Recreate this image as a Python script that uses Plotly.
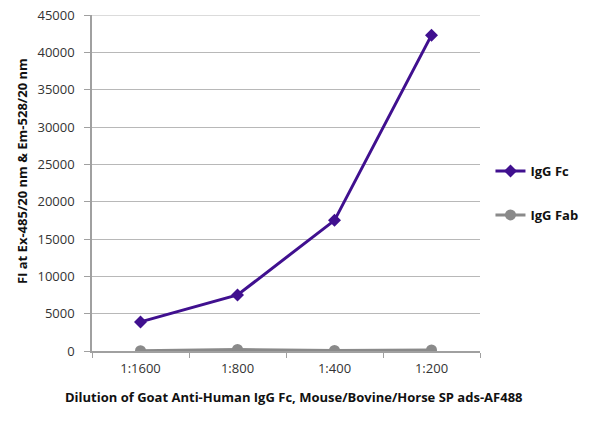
import plotly.graph_objects as go

categories = ["1:1600", "1:800", "1:400", "1:200"]
igg_fc = [3900, 7500, 17500, 42300]
igg_fab = [50, 200, 80, 150]
y_max = 45000

x_title = "<b>Dilution of Goat Anti-Human IgG Fc, Mouse/Bovine/Horse SP ads-AF488</b>"
y_title = "<b>FI at Ex-485/20 nm & Em-528/20 nm</b>"

fig = go.Figure()
fig.add_trace(go.Scatter(x=categories, y=igg_fc, name="IgG Fc", mode="lines+markers",
                         legendgroup="fc",
                         line=dict(color="#40108f", width=3),
                         marker=dict(symbol="diamond", size=10, color="#40108f")))
fig.add_trace(go.Scatter(x=categories, y=igg_fab, name="IgG Fab", mode="lines+markers",
                         legendgroup="fab",
                         line=dict(color="#8a8a8a", width=3),
                         marker=dict(symbol="circle", size=11, color="#8a8a8a")))

font_family = "Open Sans, Noto Sans, sans-serif"
fig.update_layout(
    width=600, height=425,
    margin=dict(l=92, r=120, t=15, b=74),
    plot_bgcolor="white", paper_bgcolor="white",
    font=dict(family=font_family, size=13, color="#333"),
    showlegend=True,
    legend=dict(x=1.027, y=0.47, xanchor="left", yanchor="middle",
                font=dict(size=13, color="#111", family=font_family, weight="bold"),
                tracegroupgap=24, itemwidth=30),
    xaxis=dict(
        type="category", showline=True, linecolor="#a0a0a0", linewidth=1.5,
        ticks="outside", tickcolor="#a0a0a0", ticklen=5, tickson="boundaries",
        showgrid=False, range=[-0.5, 3.5], automargin=False,
        ticklabelstandoff=5,
    ),
    yaxis=dict(
        range=[0, y_max], tickmode="linear", tick0=0, dtick=5000, tickformat="d",
        showline=True, linecolor="#a0a0a0", linewidth=1.5,
        ticks="outside", tickcolor="#a0a0a0", ticklen=6,
        showgrid=True, gridcolor="#b8b8b8", gridwidth=1, zeroline=False,
        automargin=False, ticklabelstandoff=7, ticklabeloverflow="allow",
    ),
    shapes=[dict(type="line", xref="paper", yref="y", x0=0, x1=1, y0=y_max, y1=y_max,
                 line=dict(color="#b8b8b8", width=1), layer="below")],
    annotations=[
        dict(text=x_title, xref="paper", yref="paper", x=0.521, y=-0.137,
             xanchor="center", yanchor="middle", showarrow=False,
             font=dict(size=13, color="#111", family=font_family)),
        dict(text=y_title, xref="paper", yref="paper", x=-0.180,
             y=0.536, xanchor="center", yanchor="middle", textangle=-90,
             showarrow=False, font=dict(size=13, color="#111", family=font_family)),
    ],
)
fig.write_html("out.html", config={"displayModeBar": False},
               post_script="document.body.style.margin='0';")
